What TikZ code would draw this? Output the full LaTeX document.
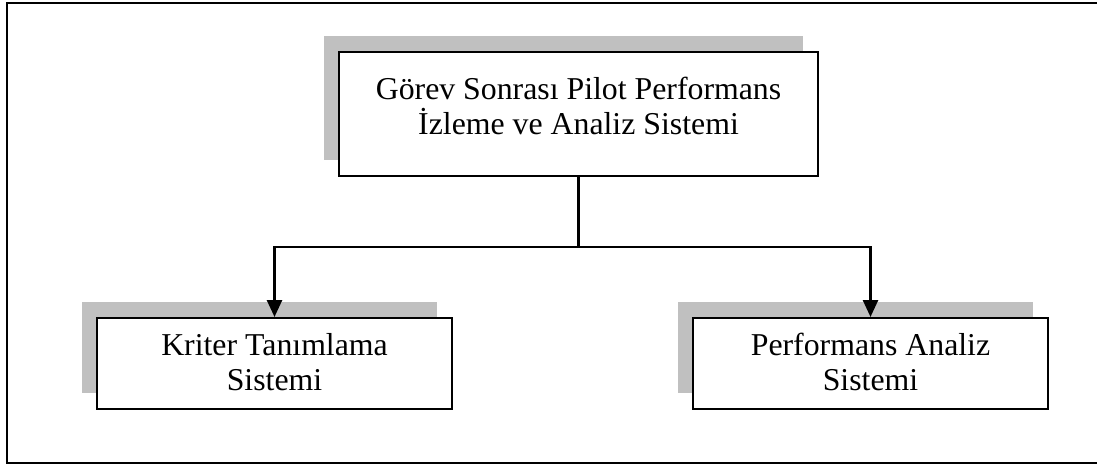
\documentclass[tikz,border=0pt]{standalone}
\usepackage{fontspec}
\setmainfont{Liberation Serif}
\usetikzlibrary{arrows.meta,shadows}
\definecolor{shadowgray}{HTML}{C0C0C0}
\tikzset{
  box/.style={draw=black, line width=2pt, fill=white, rectangle, inner sep=0pt,
    general shadow={fill=shadowgray, draw=none, shadow xshift=-15pt, shadow yshift=16pt}},
  txt/.style={inner sep=0pt, anchor=base, font=\fontsize{31.8}{36}\selectfont},
  conn/.style={line width=2.6pt, draw=black, line join=miter},
  arr/.style={conn, -{Triangle[width=15pt,length=17pt]}}
}
\begin{document}
\begin{tikzpicture}[x=1pt,y=-1pt]
\useasboundingbox (0,0) rectangle (1097,465);
\draw[line width=2pt] (1102,3.5) -- (7,3.5) -- (7,462.5) -- (1102,462.5);
\node[box, minimum width=479pt, minimum height=124pt] (top) at (578.5,114) {};
\node[box, minimum width=355pt, minimum height=91pt] (krit) at (274.5,363.5) {};
\node[box, minimum width=355pt, minimum height=91pt] (perf) at (870.5,363.5) {};
\node[txt] (top1) at ([yshift=-49pt]top.north) {Görev Sonrası Pilot Performans};
\node[txt] (top2) at ([yshift=-84pt]top.north) {İzleme ve Analiz Sistemi};
\node[txt] (krit1) at ([yshift=-38pt]krit.north) {Kriter Tanımlama};
\node[txt] (krit2) at ([yshift=-73pt]krit.north) {Sistemi};
\node[txt] (perf1) at ([yshift=-38pt]perf.north) {Performans Analiz};
\node[txt] (perf2) at ([yshift=-73pt]perf.north) {Sistemi};
\coordinate (j) at (top.south |- 0,247);
\draw[conn] (top.south) -- (j);
\draw[arr] (j) -| (krit.north);
\draw[arr] (j) -| (perf.north);
\end{tikzpicture}
\end{document}
